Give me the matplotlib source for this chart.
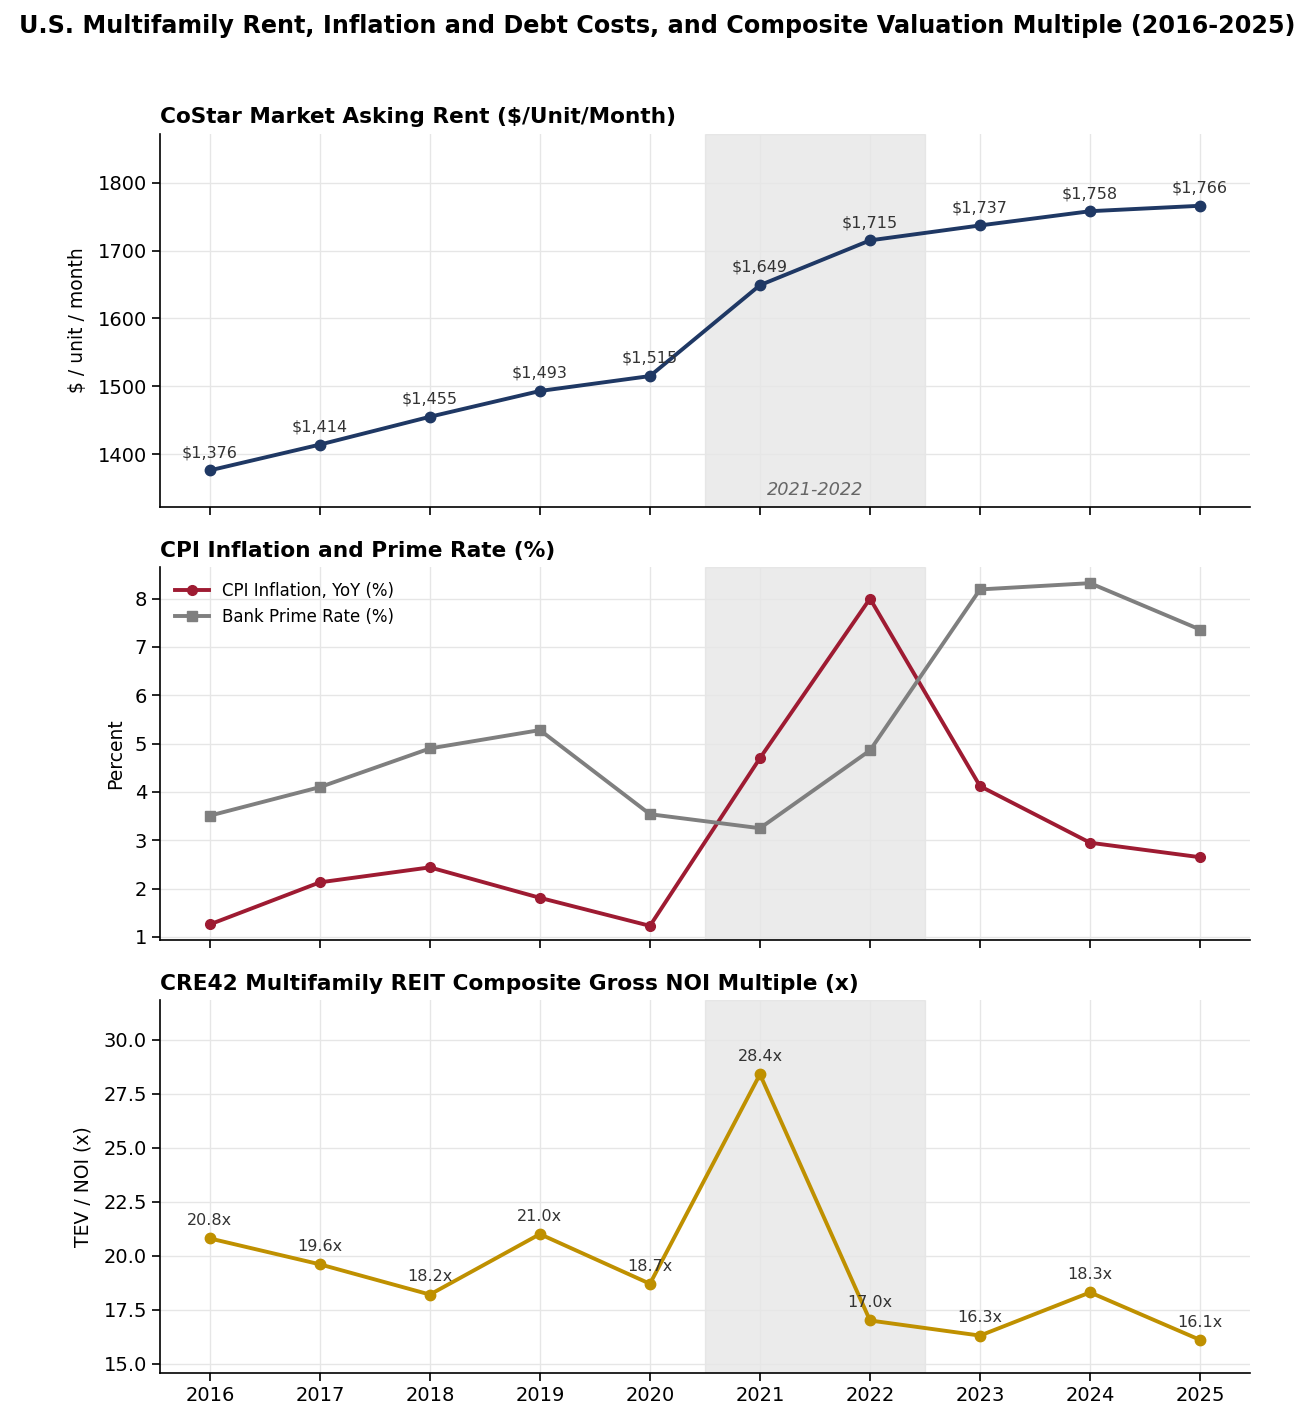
import numpy as np
import matplotlib
matplotlib.use("Agg")
import matplotlib.pyplot as plt

years = [2016, 2017, 2018, 2019, 2020, 2021, 2022, 2023, 2024, 2025]
rent = [1376, 1414, 1455, 1493, 1515, 1649, 1715, 1737, 1758, 1766]
cpi = [1.26, 2.13, 2.44, 1.81, 1.23, 4.70, 8.00, 4.12, 2.95, 2.65]
prime = [3.51, 4.10, 4.90, 5.28, 3.54, 3.25, 4.86, 8.19, 8.32, 7.36]
noi_multiple = [20.8, 19.6, 18.2, 21.0, 18.7, 28.4, 17.0, 16.3, 18.3, 16.1]

NAVY = "#1f3864"
RED = "#9e1b32"
GRAY = "#7f7f7f"
GOLD = "#bf9000"

fig, axes = plt.subplots(3, 1, figsize=(13.14, 14.24), dpi=100, sharex=True)
fig.subplots_adjust(left=0.122, right=0.951, top=0.906, bottom=0.036, hspace=0.16)

fig.suptitle(
    "U.S. Multifamily Rent, Inflation and Debt Costs, and Composite Valuation Multiple (2016-2025)",
    fontsize=17.2, fontweight="bold", y=0.99
)

for ax in axes:
    ax.axvspan(2020.5, 2022.5, color="#d9d9d9", alpha=0.5, zorder=0)
    ax.grid(True, color="#e6e6e6", linewidth=1)
    ax.set_axisbelow(True)
    ax.spines["top"].set_visible(False)
    ax.spines["right"].set_visible(False)
    ax.spines["left"].set_linewidth(1.2)
    ax.spines["bottom"].set_linewidth(1.2)
    ax.tick_params(labelsize=14, length=6, width=1.2)

# rent
ax = axes[0]
ax.plot(years, rent, color=NAVY, linewidth=2.8, marker="o", markersize=7.5)
for x, y in zip(years, rent):
    ax.annotate(f"${y:,}", (x, y), textcoords="offset points", xytext=(0, 9.5),
                ha="center", fontsize=11.5, color="#333333")
ax.set_ylim(1322, 1872)
ax.set_ylabel("$ / unit / month", fontsize=13.5, labelpad=8)
ax.set_title("CoStar Market Asking Rent ($/Unit/Month)", loc="left",
             fontsize=15.6, fontweight="bold", pad=8)
ax.text(2021.5, 1334, "2021-2022", ha="center", va="bottom", fontsize=12.8,
        style="italic", color="#666666")

# cpi and prime
ax = axes[1]
ax.plot(years, cpi, color=RED, linewidth=2.8, marker="o", markersize=7,
        label="CPI Inflation, YoY (%)")
ax.plot(years, prime, color=GRAY, linewidth=2.8, marker="s", markersize=7.5,
        label="Bank Prime Rate (%)")
ax.set_ylim(0.94, 8.66)
ax.set_yticks([1, 2, 3, 4, 5, 6, 7, 8])
ax.set_ylabel("Percent", fontsize=13.5, labelpad=7)
ax.set_title("CPI Inflation and Prime Rate (%)", loc="left",
             fontsize=15.6, fontweight="bold", pad=7)
ax.legend(loc="upper left", frameon=False, fontsize=12)

# multiple
ax = axes[2]
ax.plot(years, noi_multiple, color=GOLD, linewidth=2.8, marker="o", markersize=7.5)
for x, y in zip(years, noi_multiple):
    ax.annotate(f"{y:.1f}x", (x, y), textcoords="offset points", xytext=(0, 9.5),
                ha="center", fontsize=11.5, color="#333333")
ax.set_ylim(14.58, 31.86)
ax.set_yticks([15.0, 17.5, 20.0, 22.5, 25.0, 27.5, 30.0])
ax.set_ylabel("TEV / NOI (x)", fontsize=13.5, labelpad=8)
ax.set_title("CRE42 Multifamily REIT Composite Gross NOI Multiple (x)", loc="left",
             fontsize=15.6, fontweight="bold", pad=7)
ax.set_xticks(years)
ax.set_xlim(2015.55, 2025.45)

fig.savefig("out.png", dpi=100)
